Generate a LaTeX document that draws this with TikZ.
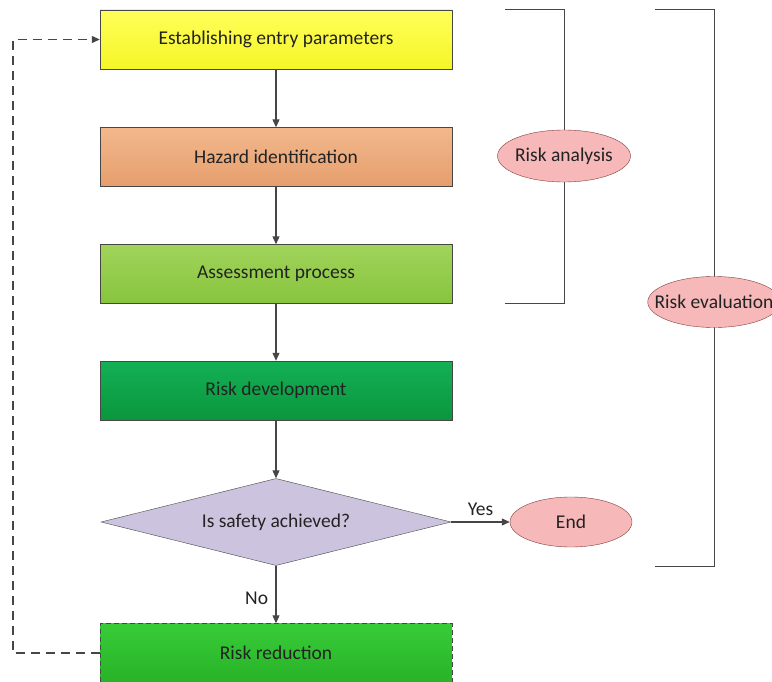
\documentclass[tikz,border=0pt]{standalone}
\usepackage{fontspec}
\setmainfont{Carlito}
\usetikzlibrary{arrows.meta,shapes.geometric}

\definecolor{linegray}{RGB}{70,70,70}
\definecolor{textgray}{RGB}{35,35,35}
\definecolor{yellowtop}{RGB}{255,255,90}
\definecolor{yellowbot}{RGB}{245,245,40}
\definecolor{orangetop}{RGB}{242,184,140}
\definecolor{orangebot}{RGB}{230,158,110}
\definecolor{lgreentop}{RGB}{160,212,90}
\definecolor{lgreenbot}{RGB}{136,196,62}
\definecolor{dgreentop}{RGB}{20,176,86}
\definecolor{dgreenbot}{RGB}{10,150,60}
\definecolor{bgreentop}{RGB}{56,204,56}
\definecolor{bgreenbot}{RGB}{40,178,40}
\definecolor{lavender}{RGB}{204,196,222}
\definecolor{pinkfill}{RGB}{246,184,184}
\definecolor{pinkline}{RGB}{130,60,60}

\begin{document}
\begin{tikzpicture}[x=1pt,y=-1pt,
  font=\fontsize{19.5}{23}\selectfont, text=textgray,
  stage/.style={draw=linegray, minimum width=352pt, minimum height=59pt, inner sep=0pt},
  decision/.style={diamond, draw=linegray, fill=lavender, aspect=4, inner sep=0pt,
    minimum width=350pt, minimum height=87pt},
  tag/.style={ellipse, draw=pinkline, fill=pinkfill, inner sep=0pt},
  flow/.style={draw=linegray, line width=1.1pt, -{Triangle[length=8pt,width=7pt]}}]
\useasboundingbox (0,0) rectangle (772,682);

% brackets for the two groups
\foreach \x/\a/\b in {564/10/303, 714/10/566}
  \draw [linegray, line width=1pt] (\x-59,\a) -- (\x,\a) -- (\x,\b) -- (\x-59,\b);

% process steps
\node [stage, top color=yellowtop, bottom color=yellowbot] (entry) at (276,39.5) {Establishing entry parameters};
\node [stage, top color=orangetop, bottom color=orangebot] (hazard) at (276,157) {Hazard identification};
\node [stage, top color=lgreentop, bottom color=lgreenbot] (assess) at (276,274) {Assessment process};
\node [stage, top color=dgreentop, bottom color=dgreenbot] (develop) at (276,390.5) {Risk development};
\node [decision] (safe) at (276,522) {Is safety achieved?};
\node [stage, dashed, dash pattern=on 5pt off 3pt, top color=bgreentop, bottom color=bgreenbot] (reduce) at (276,653) {Risk reduction};

\node [tag, minimum width=122pt, minimum height=50pt] (end) at (571,522) {End};
\node [tag, inner xsep=-2.5pt, minimum width=133pt, minimum height=52pt] (analysis) at (564,156) {Risk analysis};
\node [tag, inner xsep=-12.5pt, minimum width=132pt, minimum height=51pt] (evaluation) at (714,302) {Risk evaluation};

\draw [flow] (entry) -- (hazard);
\draw [flow] (hazard) -- (assess);
\draw [flow] (assess) -- (develop);
\draw [flow] (develop) -- (safe);
\draw [flow] (safe) -- node [above, yshift=2pt] {Yes} (end);
\draw [flow] (safe) -- node [left, xshift=-4pt, yshift=-4pt] {No} (reduce);

\coordinate (loop) at (13,653);
\draw [flow, line width=1.3pt, dash pattern=on 9pt off 6pt] (reduce.west) -- (loop) |- (entry.west);

\end{tikzpicture}
\end{document}
